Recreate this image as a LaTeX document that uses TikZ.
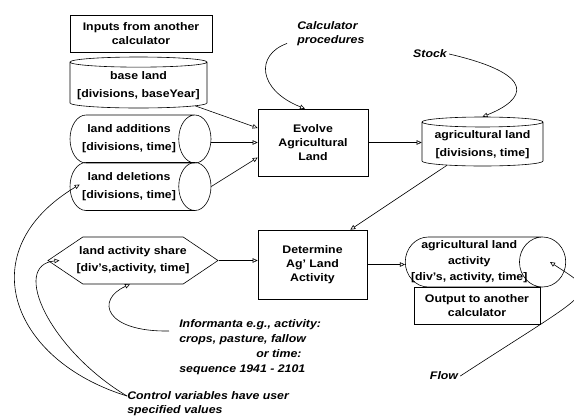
\documentclass[tikz,border=0pt]{standalone}
\usepackage{fontspec}
\setmainfont{Liberation Sans}[FakeStretch=1.12]
\usetikzlibrary{shapes.geometric,shapes.symbols,arrows.meta}

\begin{document}
\begin{tikzpicture}[x=1pt, y=-1pt, line width=0.6pt,
    every node/.style={font=\bfseries\fontsize{11}{14}\selectfont, align=center, inner sep=2pt},
    box/.style={draw, rectangle},
    can/.style={draw, cylinder, shape border rotate=90, aspect=0.08, font=\bfseries\fontsize{11}{18}\selectfont},
    drum/.style={draw, cylinder, aspect=1.0, font=\bfseries\fontsize{11}{18}\selectfont},
    note/.style={font=\bfseries\itshape\fontsize{11}{14}\selectfont, align=left},
    >={Triangle[open, length=5pt, width=4.5pt]}]
    \useasboundingbox (0,0) rectangle (574,416);
    \node [box, minimum width=142, minimum height=37] (inputs) at (141,33.5) {Inputs from another\\calculator};
    \node [can, minimum width=137, minimum height=51, anchor=shape center] (base) at (138.5,82.5) {base land\\{}[divisions, baseYear]};
    \node [drum, minimum width=48, minimum height=141, anchor=shape center] (adds) at (140.5,139) {land additions\\{}[divisions, time]};
    \node [drum, minimum width=48, minimum height=141, anchor=shape center] (dels) at (140.5,186.5) {land deletions\\{}[divisions, time]};
    \node [box, minimum width=110, minimum height=67] (evolve) at (313,142.5) {Evolve\\Agricultural\\Land};
    \node [note, anchor=west] (calc) at (295,34) {Calculator\\procedures};
    \node [note] (stock) at (430,54) {Stock};
    \node [can, minimum width=121, minimum height=49, aspect=0.1, anchor=shape center] (agland) at (482.5,141.5) {agricultural land\\{}[divisions, time]};
    \node [box, minimum width=109, minimum height=69] (determine) at (312.5,264.5) {Determine\\Ag' Land\\Activity};
    \node [draw, signal, signal to=east and west, signal pointer angle=68, minimum width=170, minimum height=47, inner xsep=0pt,
        font=\bfseries\fontsize{11}{17}\selectfont] (share) at (133,260.5)
        {\makebox[96pt]{land activity share}\\\makebox[96pt]{[div's,activity, time]}};
    \node [drum, aspect=1.0, minimum width=50, minimum height=155, anchor=shape center,
        font=\bfseries\fontsize{11}{16}\selectfont] (actland) at (485.5,262) {agricultural land\\activity\\\makebox[90pt]{[div's, activity, time]}};
    \node [box, minimum width=126, minimum height=37] (output) at (477,305.5) {Output to another\\calculator};
    \node [note, anchor=north west, font=\bfseries\itshape\fontsize{11}{15}\selectfont] (info) at (177,317)
        {Informanta e.g., activity:\\crops, pasture, fallow\\\hspace*{77pt}or time:\\sequence 1941 - 2101};
    \node [note, anchor=north west] (ctrl) at (125,389) {Control variables have user\\specified values};
    \node [note] (flow) at (444,376) {Flow};
    \draw [->] (base) -- ([yshift=14.5pt]evolve.west);
    \draw [->] (evolve.west -| adds.east) -- (evolve.west);
    \draw [->] (dels.east) -- ([yshift=-15pt]evolve.west);
    \draw [->] (evolve.east) -- (evolve.east -| agland.180);
    \draw [->] (agland.-150) -- ([xshift=-17pt]determine.north east);
    \draw [->] (share.east) -- (share.east -| determine.west);
    \draw [->] (determine.east) -- (determine.east -| actland.180);
    \draw [->] ([xshift=-8pt, yshift=5pt]calc.south west) .. controls (255,55) and (258,90) .. ([xshift=-8pt]evolve.north);
    \draw [->] (stock.east) .. controls (540,75) and (525,100) .. (agland.90);
    \draw [->] ([xshift=-8pt, yshift=-14pt]info.north west) .. controls (105,332) and (95,300) .. ([xshift=-3pt]share.south);
    \draw [->] ([xshift=2pt, yshift=-7pt]ctrl.north west) .. controls (10,360) and (-30,250) .. ([xshift=10pt, yshift=2pt]dels.180);
    \draw [->] ([xshift=2pt, yshift=-7pt]ctrl.north west) .. controls (50,350) and (10,265) .. ([xshift=12pt]share.west);
    \draw [->] (flow.east) .. controls (600,285) and (600,295) .. ([xshift=-16pt]actland.east);
\end{tikzpicture}
\end{document}
